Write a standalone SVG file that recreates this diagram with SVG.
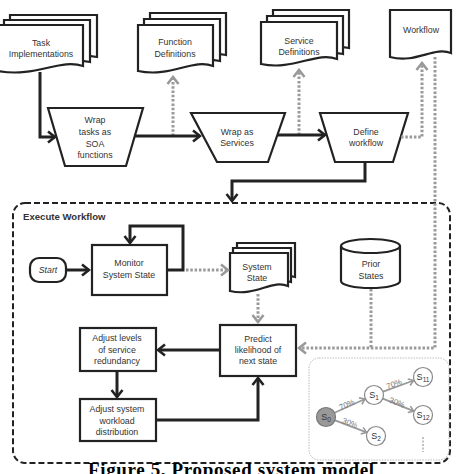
<svg xmlns="http://www.w3.org/2000/svg" width="458" height="474" viewBox="0 0 458 474">
<defs>
<marker id="ab" viewBox="-10 -8 12 16" refX="0" refY="0" markerWidth="12" markerHeight="16" markerUnits="userSpaceOnUse" orient="auto">
<path d="M-7,-5.5 L0,0 L-7,5.5" fill="none" stroke="#222" stroke-width="2.6"/>
</marker>
<marker id="ag" viewBox="-10 -8 12 16" refX="0" refY="0" markerWidth="12" markerHeight="16" markerUnits="userSpaceOnUse" orient="auto">
<path d="M-7,-5.5 L0,0 L-7,5.5" fill="none" stroke="#999" stroke-width="2.6"/>
</marker>
<marker id="as" viewBox="-8 -6 10 12" refX="0" refY="0" markerWidth="10" markerHeight="12" markerUnits="userSpaceOnUse" orient="auto">
<path d="M-5,-3.5 L0,0 L-5,3.5" fill="none" stroke="#999" stroke-width="1.6"/>
</marker>
</defs>
<style>
.sh{fill:#fff;stroke:#222;stroke-width:2.2;stroke-linejoin:miter}
.t{font-family:"Liberation Sans",Arial,sans-serif;font-size:8.8px;fill:#333;text-anchor:middle}
.b{fill:none;stroke:#222;stroke-width:3}
.g{fill:none;stroke:#9a9a9a;stroke-width:3;stroke-dasharray:2.5 1.8}
.st{fill:#fff;stroke:#888;stroke-width:1.2}
.sa{fill:none;stroke:#999;stroke-width:1.8}
.sl{font-family:"Liberation Sans",Arial,sans-serif;font-size:8px;fill:#777;text-anchor:middle}
.sn{font-family:"Liberation Sans",Arial,sans-serif;font-size:9px;fill:#333;text-anchor:middle}
</style>

<g id="container">
<rect x="13" y="203" width="437" height="260" rx="12" fill="none" stroke="#222" stroke-width="2" stroke-dasharray="6 3"/>
<text x="23" y="220" style="font-family:'Liberation Sans',Arial,sans-serif;font-size:9.6px;font-weight:bold;fill:#333">Execute Workflow</text>
</g>

<g id="inset">
<rect x="309" y="358" width="140" height="102" rx="10" fill="none" stroke="#aaa" stroke-width="0.8" stroke-dasharray="1.5 1.2"/>
</g>

<g id="task-implementations">
<path class="sh" transform="translate(10,15)" d="M0,0 H87 V42 C60,36 40,48 0,44 Z"/>
<path class="sh" transform="translate(4,20)" d="M0,0 H86 V42 C60,36 40,48 0,44 Z"/>
<path class="sh" transform="translate(-2,25)" d="M0,0 H85 V41 C62,33 38,53 0,46 Z"/>
<text class="t" x="41" y="46">Task</text>
<text class="t" x="41" y="57">Implementations</text>
</g>

<g id="function-definitions">
<path class="sh" transform="translate(150,13)" d="M0,0 H76 V42 C50,36 30,48 0,44 Z"/>
<path class="sh" transform="translate(144,19)" d="M0,0 H76 V42 C50,36 30,48 0,44 Z"/>
<path class="sh" transform="translate(138,25)" d="M0,0 H75 V41 C55,33 33,53 0,46 Z"/>
<text class="t" x="175" y="45">Function</text>
<text class="t" x="175" y="57">Definitions</text>
</g>

<g id="service-definitions">
<path class="sh" transform="translate(273,10)" d="M0,0 H76 V38 C50,32 30,44 0,40 Z"/>
<path class="sh" transform="translate(267,16)" d="M0,0 H76 V38 C50,32 30,44 0,40 Z"/>
<path class="sh" transform="translate(261,22)" d="M0,0 H76 V37 C55,29 33,49 0,42 Z"/>
<text class="t" x="299" y="44">Service</text>
<text class="t" x="299" y="55">Definitions</text>
</g>

<g id="workflow-doc">
<path class="sh" transform="translate(390,10)" d="M0,0 H61 V43 C44,36 26,54 0,47 Z"/>
<text class="t" x="421" y="33">Workflow</text>
</g>

<g id="wrap-tasks">
<path class="sh" d="M48,108 H143 L126,166 H65 Z"/>
<text class="t" x="95" y="123">Wrap</text>
<text class="t" x="95" y="135">tasks as</text>
<text class="t" x="95" y="147">SOA</text>
<text class="t" x="95" y="158">functions</text>
</g>

<g id="wrap-services">
<path class="sh" d="M191,113 H285 L268,162 H217 Z"/>
<text class="t" x="237" y="135">Wrap as</text>
<text class="t" x="237" y="146">Services</text>
</g>

<g id="define-workflow">
<path class="sh" d="M320,113 H408 L393,162 H335 Z"/>
<text class="t" x="366" y="135">Define</text>
<text class="t" x="366" y="146">workflow</text>
</g>

<g id="start">
<rect class="sh" x="30" y="258" width="36" height="24" rx="9"/>
<text class="t" x="48" y="273" font-style="italic">Start</text>
</g>

<g id="monitor">
<rect class="sh" x="92" y="245" width="75" height="50"/>
<text class="t" x="129" y="266">Monitor</text>
<text class="t" x="129" y="278">System State</text>
</g>

<g id="system-state">
<path class="sh" transform="translate(237,243)" d="M0,0 H58 V34 C40,29 25,39 0,36 Z"/>
<path class="sh" transform="translate(233,248)" d="M0,0 H58 V34 C40,29 25,39 0,36 Z"/>
<path class="sh" transform="translate(230,253)" d="M0,0 H58 V33 C42,26 26,44 0,38 Z"/>
<text class="t" x="257" y="270">System</text>
<text class="t" x="257" y="281">State</text>
</g>

<g id="prior-states">
<path class="sh" d="M341,246 A29.5,7 0 0 1 400,246 V281 A29.5,7 0 0 1 341,281 Z"/>
<path fill="none" stroke="#222" stroke-width="2.2" d="M341,246 A29.5,7 0 0 0 400,246"/>
<text class="t" x="371" y="267">Prior</text>
<text class="t" x="371" y="279">States</text>
</g>

<g id="predict">
<rect class="sh" x="220" y="325" width="76" height="51"/>
<text class="t" x="258" y="342">Predict</text>
<text class="t" x="258" y="353">likelihood of</text>
<text class="t" x="258" y="364">next state</text>
</g>

<g id="adjust-levels">
<rect class="sh" x="80" y="328" width="76" height="43"/>
<text class="t" x="117" y="341">Adjust  levels</text>
<text class="t" x="117" y="353">of service</text>
<text class="t" x="117" y="364">redundancy</text>
</g>

<g id="adjust-system">
<rect class="sh" x="80" y="399" width="76" height="42"/>
<text class="t" x="117" y="412">Adjust system</text>
<text class="t" x="117" y="424">workload</text>
<text class="t" x="117" y="435">distribution</text>
</g>

<g id="connectors">
<path class="b" d="M40,72 V137 H55" marker-end="url(#ab)"/>
<path class="g" d="M173,136 V77" marker-end="url(#ag)"/>
<path class="b" d="M134,136 H200" marker-end="url(#ab)"/>
<path class="g" d="M299,135 V70" marker-end="url(#ag)"/>
<path class="b" d="M277,135 H325" marker-end="url(#ab)"/>
<path class="g" d="M401,137 H422 V63" marker-end="url(#ag)"/>
<path class="g" d="M435,57 V348 H299" marker-end="url(#ag)"/>
<path class="g" d="M371,289 V348"/>
<path class="b" d="M365,162 V181 H232 V201" marker-end="url(#ab)"/>
<path class="b" d="M66,270 H89" marker-end="url(#ab)"/>
<path class="b" d="M167,270 H183 V226 H130 V243" marker-end="url(#ab)"/>
<path class="g" d="M186,270 H228" marker-end="url(#ag)"/>
<path class="g" d="M258,294 V322" marker-end="url(#ag)"/>
<path class="b" d="M220,350 H158" marker-end="url(#ab)"/>
<path class="b" d="M117,371 V397" marker-end="url(#ab)"/>
<path class="b" d="M156,420 H258 V378" marker-end="url(#ab)"/>
</g>

<g id="state-tree">
<path class="sa" d="M334,413 L365,399" marker-end="url(#as)"/>
<path class="sa" d="M334.4,420.2 L366.6,432.4" marker-end="url(#as)"/>
<path class="sa" d="M382.5,391.9 L413.6,380.5" marker-end="url(#as)"/>
<path class="sa" d="M382.3,398.4 L413.7,411.2" marker-end="url(#as)"/>
<text class="sl" transform="translate(348,407) rotate(-24.6)">70%</text>
<text class="sl" transform="translate(349,425.5) rotate(20.8)">30%</text>
<text class="sl" transform="translate(395,386.5) rotate(-20.2)">70%</text>
<text class="sl" transform="translate(396,405) rotate(22.2)">30%</text>
<g id="s0"><circle cx="326" cy="417" r="9.5" fill="#999" stroke="#777" stroke-width="1.2"/><text class="sn" x="326" y="420">S<tspan font-size="6.5" dy="2">0</tspan></text></g>
<g id="s1"><circle class="st" cx="374" cy="395" r="9.5"/><text class="sn" x="374" y="398">S<tspan font-size="6.5" dy="2">1</tspan></text></g>
<g id="s11"><circle class="st" cx="423" cy="377" r="9.5"/><text class="sn" x="423" y="380">S<tspan font-size="6.5" dy="2">11</tspan></text></g>
<g id="s12"><circle class="st" cx="423" cy="415" r="9.5"/><text class="sn" x="423" y="418">S<tspan font-size="6.5" dy="2">12</tspan></text></g>
<g id="s2"><circle class="st" cx="376" cy="436" r="9.5"/><text class="sn" x="376" y="439">S<tspan font-size="6.5" dy="2">2</tspan></text></g>
<path d="M423,437 V452" stroke="#999" stroke-width="1.2" stroke-dasharray="2 1.5"/>
</g>

<text x="88" y="476" textLength="286" style="font-family:'Liberation Serif','Times New Roman',serif;font-size:19px;font-weight:bold;fill:#000">Figure 5. Proposed system model</text>
</svg>
